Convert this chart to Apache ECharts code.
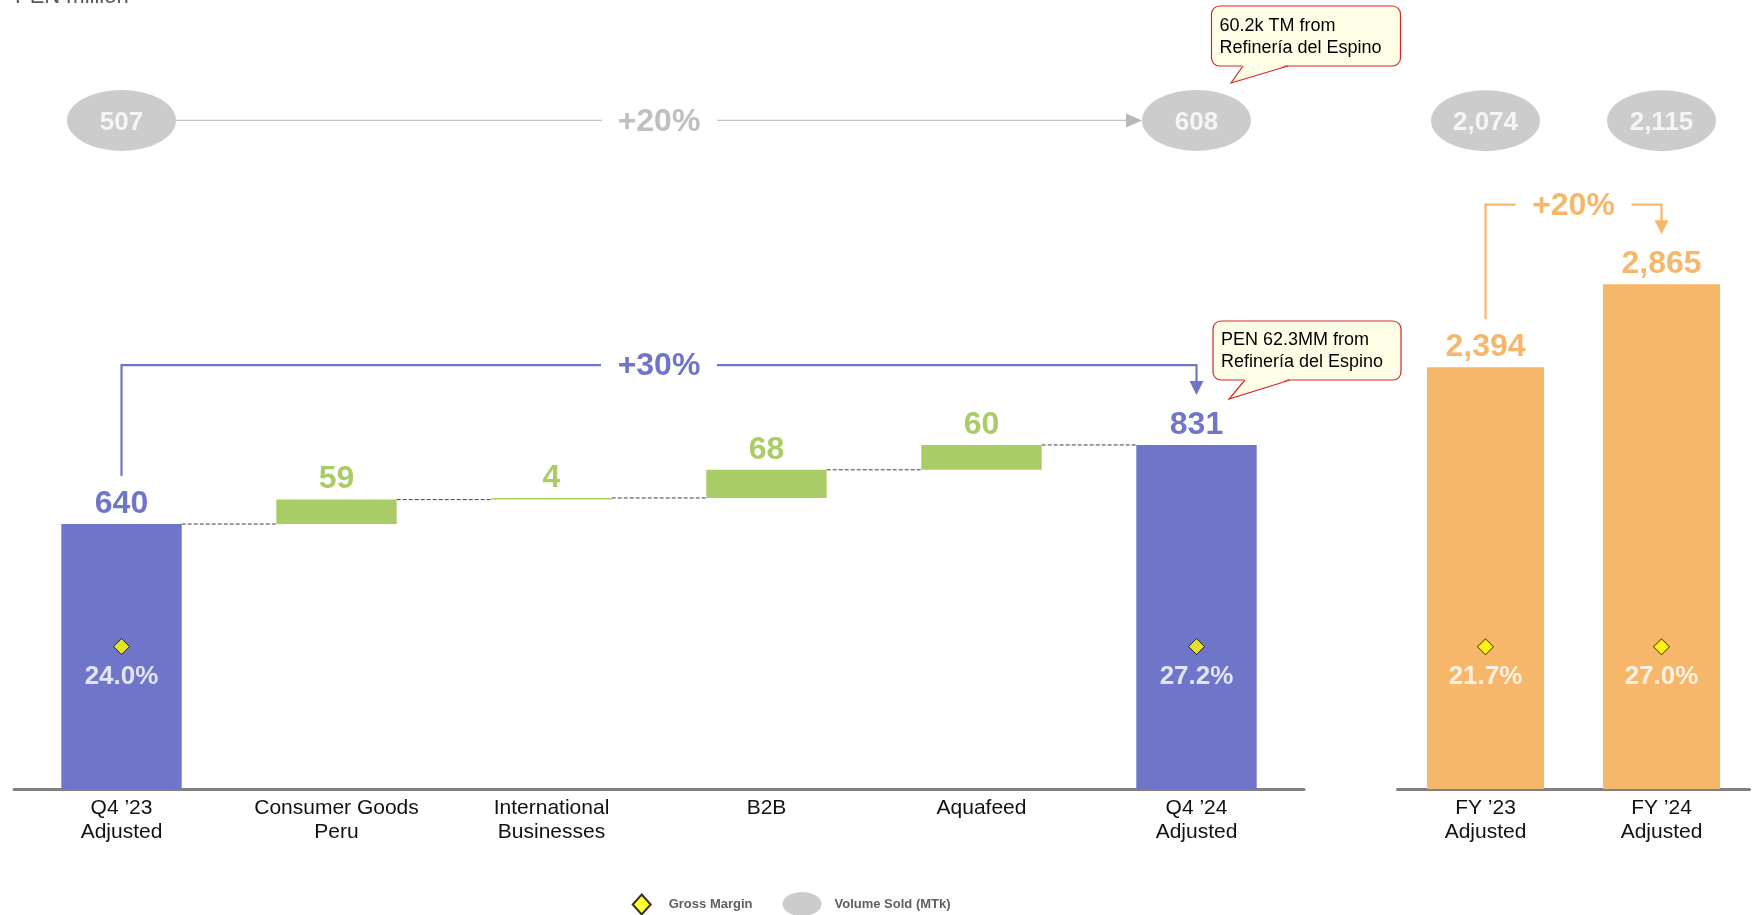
<!DOCTYPE html>
<html>
<head>
<meta charset="utf-8">
<title>Gross profit bridge</title>
<script src="https://cdn.jsdelivr.net/npm/echarts@6.0.0/dist/echarts.min.js"></script>
<style>
  html, body { margin: 0; padding: 0; background: #fff; }
  #chart { width: 1753px; height: 915px; }
</style>
</head>
<body>
<div id="chart"></div>
<script>
// ---- data ----
const quarterCategories = ['Q4 ’23\nAdjusted', 'Consumer Goods\nPeru', 'International\nBusinesses', 'B2B', 'Aquafeed', 'Q4 ’24\nAdjusted']
const quarterStart = 640
const quarterDeltas = [59, 4, 68, 60]
const quarterEnd = 831
const quarterMargins = [24.0, 27.2]      // Q4 '23, Q4 '24
const quarterVolumes = [507, 608]
const quarterVolumeGrowth = '+20%'
const quarterGrowth = '+30%'

const yearCategories = ['FY ’23\nAdjusted', 'FY ’24\nAdjusted']
const yearValues = [2394, 2865]
const yearMargins = [21.7, 27.0]
const yearVolumes = [2074, 2115]
const yearGrowth = '+20%'

const volumeNote = ['60.2k TM from', 'Refinería del Espino']
const profitNote = ['PEN 62.3MM from', 'Refinería del Espino']

// ---- styling ----
const BLUE = '#6f76c9'
const GREEN = '#a9cc66'
const ORANGE = '#f7b76b'
const GREY = '#bfbfbf'
const FONT = '"Liberation Sans", Arial, sans-serif'

// axis px per unit and heights (in axis units) where annotation rows sit
const AXIS_Y = 789
const Q_SCALE = 0.414, Y_SCALE = 0.1762
const Q_MAX = 1800, Y_MAX = 4200
const Q_VOL_LEVEL = 1615, Y_VOL_LEVEL = 3793
const Q_DIAMOND_LEVEL = 344, Y_DIAMOND_LEVEL = 807
const Q_BRACKET_LEVEL = 1024, Y_BRACKET_LEVEL = 3317

const ellipsePath = 'path://M0,12 A19.5,12 0 1,1 39,12 A19.5,12 0 1,1 0,12 Z'

// the legend text on the slide is a condensed face
const hasFont = name => {
  const ctx = document.createElement('canvas').getContext('2d')
  ctx.font = 'bold 16px monospace'
  const w = ctx.measureText('Gross Margin Volume').width
  ctx.font = `bold 16px "${name}", monospace`
  return ctx.measureText('Gross Margin Volume').width !== w
}
const narrow = hasFont('Liberation Sans Narrow')
const legendText = {
  fontSize: narrow ? 16 : 13,
  fontWeight: 'bold',
  color: '#5f5f5f',
  fontFamily: narrow ? '"Liberation Sans Narrow", sans-serif' : FONT
}

// waterfall pieces
const levels = [quarterStart]
quarterDeltas.forEach(d => levels.push(levels[levels.length - 1] + d))
const lastIdx = quarterCategories.length - 1
const baseData = [0, ...levels.slice(0, -1), 0]
const shownData = [quarterStart, ...quarterDeltas, quarterEnd]

const fmt = v => v.toLocaleString('en-US')

// bracket with growth label, drawn from the bar tops
const bracketRender = (color, text, level) => (params, api) => {
  const a = api.coord([api.value(0), api.value(2)])
  const b = api.coord([api.value(1), api.value(3)])
  const y = api.coord([0, level])[1]
  const mid = (a[0] + b[0]) / 2
  const gap = 58
  const y0 = a[1] - 48
  const tip = b[1] - 50
  const line = { stroke: color, lineWidth: 2.2, fill: null }
  return {
    type: 'group',
    children: [
      { type: 'polyline', shape: { points: [[a[0], y0], [a[0], y], [mid - gap, y]] }, style: line },
      { type: 'polyline', shape: { points: [[mid + gap, y], [b[0], y], [b[0], tip - 12]] }, style: line },
      { type: 'polygon', shape: { points: [[b[0] - 7, tip - 14], [b[0] + 7, tip - 14], [b[0], tip]] }, style: { fill: color } },
      { type: 'text', x: mid, y: y + 1.5, style: { text, fill: color, fontSize: 32, fontWeight: 'bold', fontFamily: FONT, align: 'center', verticalAlign: 'middle' } }
    ]
  }
}

// grey volume arrow between the two quarter ellipses
const volumeArrowRender = (params, api) => {
  const a = api.coord([api.value(0), Q_VOL_LEVEL])
  const b = api.coord([api.value(1), Q_VOL_LEVEL])
  const half = 54.5
  const mid = (a[0] + b[0]) / 2
  const x1 = b[0] - half
  const line = { stroke: '#c4c4c4', lineWidth: 1.3, fill: null }
  return {
    type: 'group',
    children: [
      { type: 'line', shape: { x1: a[0] + half, y1: a[1], x2: mid - 57, y2: a[1] }, style: line },
      { type: 'line', shape: { x1: mid + 58, y1: a[1], x2: x1 - 14, y2: a[1] }, style: line },
      { type: 'polygon', shape: { points: [[x1 - 16, a[1] - 7], [x1 - 16, a[1] + 7], [x1, a[1]]] }, style: { fill: '#b8b8b8' } },
      { type: 'text', x: mid, y: a[1] + 1.5, style: { text: quarterVolumeGrowth, fill: GREY, fontSize: 32, fontWeight: 'bold', fontFamily: FONT, align: 'center', verticalAlign: 'middle' } }
    ]
  }
}

// dashed connectors between waterfall steps
const connectorRender = (params, api) => {
  const c = api.coord([api.value(0), api.value(1)])
  const band = api.size([1, 0])[0]
  const half = band * 0.56 / 2
  return {
    type: 'line',
    shape: { x1: c[0] + half, y1: c[1], x2: c[0] + band - half, y2: c[1] },
    style: { stroke: '#404040', lineWidth: 1, lineDash: [4, 2] }
  }
}

// speech-bubble notes
const callout = (x, y, w, h, tipX, tipY, baseX1, baseX2, lines) => ({
  type: 'group',
  children: [
    { type: 'rect', shape: { x, y, width: w, height: h, r: 8 }, style: { fill: '#ffffe8', stroke: '#d7262c', lineWidth: 1.2 } },
    { type: 'polygon', shape: { points: [[baseX1, y + h - 1.5], [baseX2, y + h - 1.5], [tipX, tipY]] }, style: { fill: '#ffffe8' } },
    { type: 'polyline', shape: { points: [[baseX1, y + h], [tipX, tipY], [baseX2, y + h]] }, style: { stroke: '#d7262c', lineWidth: 1.2, fill: null } },
    { type: 'text', x: x + 8, y: y + h / 2 + 1, style: { text: lines.join('\n'), fill: '#000', fontSize: 18, fontFamily: FONT, lineHeight: 22, verticalAlign: 'middle' } }
  ]
})

const marginLabel = {
  show: true,
  position: 'bottom',
  distance: 9,
  color: '#fff',
  fontSize: 26,
  lineHeight: 26,
  fontWeight: 'bold',
  fontFamily: FONT,
  formatter: p => p.value[2].toFixed(1) + '%'
}

const volumeLabel = {
  show: true,
  position: 'inside',
  offset: [0, 2],
  color: '#fff',
  fontSize: 26,
  fontWeight: 'bold',
  fontFamily: FONT,
  formatter: p => fmt(p.value[2])
}

const valueLabel = color => ({
  show: true,
  position: 'top',
  distance: 4,
  color,
  fontSize: 32,
  lineHeight: 32,
  fontWeight: 'bold',
  fontFamily: FONT,
  formatter: p => fmt(p.value)
})

const categoryAxis = (gridIndex, data) => ({
  type: 'category',
  gridIndex,
  data,
  axisTick: { show: false },
  axisLine: { lineStyle: { color: '#808080', width: 3 } },
  axisLabel: { color: '#111', fontSize: 21, lineHeight: 24, margin: 7, fontFamily: FONT, interval: 0 }
})

const chart = echarts.init(document.getElementById('chart'))

chart.setOption({
  animation: false,
  textStyle: { fontFamily: FONT },
  grid: [
    { left: 14, width: 1290, top: AXIS_Y - Q_MAX * Q_SCALE, bottom: 915 - AXIS_Y },
    { left: 1397.5, width: 352, top: AXIS_Y - Y_MAX * Y_SCALE, bottom: 915 - AXIS_Y }
  ],
  xAxis: [categoryAxis(0, quarterCategories), categoryAxis(1, yearCategories)],
  yAxis: [
    { type: 'value', gridIndex: 0, min: 0, max: Q_MAX, show: false },
    { type: 'value', gridIndex: 1, min: 0, max: Y_MAX, show: false }
  ],
  legend: [
    {
      left: 631.7,
      top: 893.5,
      padding: 0,
      itemWidth: 18,
      itemHeight: 20,
      selectedMode: false,
      textStyle: { ...legendText, padding: [0, 0, 0, 13] },
      data: [{ name: 'Gross Margin', icon: 'diamond' }]
    },
    {
      left: 782.5,
      top: 892,
      padding: 0,
      itemWidth: 39,
      itemHeight: 24,
      selectedMode: false,
      textStyle: { ...legendText, padding: [0, 0, 0, 8] },
      data: [{ name: 'Volume Sold (MTk)', icon: ellipsePath }]
    }
  ],
  graphic: [
    { type: 'text', left: 15, top: -14, style: { text: 'PEN million', fill: '#595959', fontSize: 22, fontFamily: FONT } },
    callout(1211.5, 6, 189, 60, 1231, 83, 1243, 1288, volumeNote),
    callout(1213, 321, 188, 59, 1229, 399, 1245, 1290, profitNote)
  ],
  series: [
    {
      type: 'bar',
      stack: 'wf',
      xAxisIndex: 0,
      yAxisIndex: 0,
      barWidth: '56%',
      silent: true,
      itemStyle: { color: 'transparent' },
      data: baseData
    },
    {
      type: 'bar',
      stack: 'wf',
      xAxisIndex: 0,
      yAxisIndex: 0,
      barWidth: '56%',
      data: shownData.map((v, i) => {
        const color = (i === 0 || i === lastIdx) ? BLUE : GREEN
        return { value: v, itemStyle: { color }, label: valueLabel(color) }
      })
    },
    {
      type: 'custom',
      xAxisIndex: 0,
      yAxisIndex: 0,
      silent: true,
      renderItem: connectorRender,
      data: levels.map((v, i) => [i, v])
    },
    {
      type: 'bar',
      xAxisIndex: 1,
      yAxisIndex: 1,
      barWidth: '66.5%',
      itemStyle: { color: ORANGE },
      label: valueLabel(ORANGE),
      data: yearValues
    },
    {
      name: 'Gross Margin',
      type: 'scatter',
      xAxisIndex: 0,
      yAxisIndex: 0,
      symbol: 'diamond',
      symbolSize: 16,
      itemStyle: { color: '#ffff00', borderColor: '#000', borderWidth: 1 },
      label: marginLabel,
      z: 5,
      data: [[0, Q_DIAMOND_LEVEL, quarterMargins[0]], [lastIdx, Q_DIAMOND_LEVEL, quarterMargins[1]]]
    },
    {
      name: 'Gross Margin',
      type: 'scatter',
      xAxisIndex: 1,
      yAxisIndex: 1,
      symbol: 'diamond',
      symbolSize: 16,
      itemStyle: { color: '#ffff00', borderColor: '#000', borderWidth: 1 },
      label: marginLabel,
      z: 5,
      data: yearMargins.map((m, i) => [i, Y_DIAMOND_LEVEL, m])
    },
    {
      name: 'Volume Sold (MTk)',
      type: 'scatter',
      xAxisIndex: 0,
      yAxisIndex: 0,
      symbol: ellipsePath,
      symbolSize: [109, 61],
      itemStyle: { color: GREY },
      label: volumeLabel,
      clip: false,
      z: 5,
      data: [[0, Q_VOL_LEVEL, quarterVolumes[0]], [lastIdx, Q_VOL_LEVEL, quarterVolumes[1]]]
    },
    {
      name: 'Volume Sold (MTk)',
      type: 'scatter',
      xAxisIndex: 1,
      yAxisIndex: 1,
      symbol: ellipsePath,
      symbolSize: [109, 61],
      itemStyle: { color: GREY },
      label: volumeLabel,
      clip: false,
      z: 5,
      data: yearVolumes.map((v, i) => [i, Y_VOL_LEVEL, v])
    },
    {
      type: 'custom',
      xAxisIndex: 0,
      yAxisIndex: 0,
      silent: true,
      clip: false,
      renderItem: volumeArrowRender,
      encode: { x: [0, 1] },
      data: [[0, lastIdx]]
    },
    {
      type: 'custom',
      xAxisIndex: 0,
      yAxisIndex: 0,
      silent: true,
      clip: false,
      renderItem: bracketRender(BLUE, quarterGrowth, Q_BRACKET_LEVEL),
      encode: { x: [0, 1], y: [2, 3] },
      data: [[0, lastIdx, quarterStart, quarterEnd]]
    },
    {
      type: 'custom',
      xAxisIndex: 1,
      yAxisIndex: 1,
      silent: true,
      clip: false,
      renderItem: bracketRender(ORANGE, yearGrowth, Y_BRACKET_LEVEL),
      encode: { x: [0, 1], y: [2, 3] },
      data: [[0, 1, yearValues[0], yearValues[1]]]
    }
  ]
})
</script>
</body>
</html>
